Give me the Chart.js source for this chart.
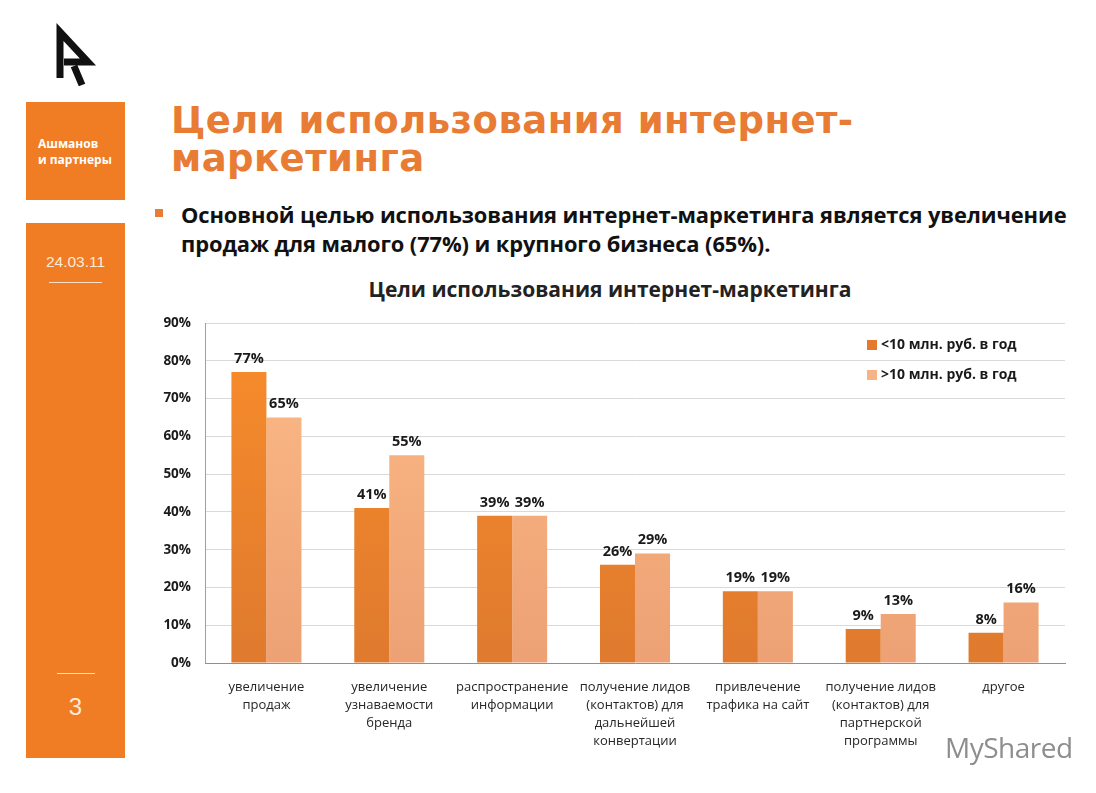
<!DOCTYPE html>
<html lang="ru">
<head>
<meta charset="utf-8">
<title>Цели использования интернет-маркетинга</title>
<script src="https://cdn.jsdelivr.net/npm/chart.js@4.4.1/dist/chart.umd.min.js"></script>
<style>
  html, body { margin: 0; padding: 0; background: #fff; }
  body { width: 1096px; height: 793px; position: relative; overflow: hidden; font-family: "Open Sans", "DejaVu Sans", sans-serif; }
  .box { position: absolute; left: 26px; width: 99px; background: #f07c24; color: #fff; }
  .box1 { top: 102px; height: 98px; }
  .box2 { top: 223px; height: 535px; }
  .brand { position: absolute; left: 12px; top: 34px; font: bold 12px/16px "Open Sans", sans-serif; }
  .date { position: absolute; left: 0; width: 99px; top: 30px; text-align: center; font: 15.5px "Liberation Sans", Arial, sans-serif; color: #fdebd8; }
  .rule { position: absolute; height: 1px; background: #fde0c8; }
  .page { position: absolute; left: 0; width: 99px; top: 470px; text-align: center; font: 24px "Liberation Sans", Arial, sans-serif; color: #fdebd8; }
  .title { position: absolute; left: 171px; top: 102px; color: #e87c34; font: bold 37px/38px "DejaVu Sans", Verdana, sans-serif; letter-spacing: 0.45px; }
  .bullet { position: absolute; left: 155px; top: 209px; width: 8px; height: 8px; background: #e87c34; }
  .lead { position: absolute; left: 181px; top: 200px; color: #111; font: bold 21.9px/29px "Open Sans", sans-serif; letter-spacing: -0.1px; white-space: nowrap; }
  .ctitle { position: absolute; left: 200px; width: 820px; top: 275px; text-align: center; color: #222; font: bold 21px "Open Sans", sans-serif; }
  #wrap { position: absolute; left: 140px; top: 300px; width: 945px; height: 460px; }
  .mark { position: absolute; left: 945px; top: 728px; color: #7a7a7a; font: 28px "Open Sans", sans-serif; letter-spacing: -0.5px; opacity: 0.85; }
</style>
</head>
<body>
<svg style="position:absolute;left:0;top:0" width="120" height="100">
  <path d="M60 78 L60 32 L88 62 L64 62" fill="none" stroke="#111" stroke-width="7" stroke-linejoin="miter"/>
  <path d="M74 66 L82 85" stroke="#111" stroke-width="7"/>
</svg>

<div class="box box1"><div class="brand">Ашманов<br>и партнеры</div></div>
<div class="box box2">
  <div class="date">24.03.11</div>
  <div class="rule" style="left:23px;width:53px;top:59px"></div>
  <div class="rule" style="left:31px;width:38px;top:450px"></div>
  <div class="page">3</div>
</div>

<div class="title">Цели использования интернет-<br>маркетинга</div>
<div class="bullet"></div>
<div class="lead">Основной целью использования интернет-маркетинга является увеличение<br>продаж для малого (77%) и крупного бизнеса (65%).</div>
<div class="ctitle">Цели использования интернет-маркетинга</div>

<div id="wrap"><canvas id="goalsChart" width="945" height="460"></canvas></div>
<div class="mark">MyShared</div>

<script>
// ---- data ----
const categories = [
  ["увеличение", "продаж"],
  ["увеличение", "узнаваемости", "бренда"],
  ["распространение", "информации"],
  ["получение лидов", "(контактов) для", "дальнейшей", "конвертации"],
  ["привлечение", "трафика на сайт"],
  ["получение лидов", "(контактов) для", "партнерской", "программы"],
  ["другое"]
];
const seriesNames = ["<10 млн. руб. в год", ">10 млн. руб. в год"];
const smallBusiness = [77, 41, 39, 26, 19, 9, 8];
const largeBusiness = [65, 55, 39, 29, 19, 13, 16];
const yTicks = [0, 10, 20, 30, 40, 50, 60, 70, 80, 90];

const LABEL_FONT = "\"Open Sans\", sans-serif";

// vertical gradient per bar set
function barGradient(ctx, top, bottom) {
    const chart = ctx.chart;
    const area = chart.chartArea;
    if (!area) return top;
    const g = chart.ctx.createLinearGradient(0, area.top, 0, area.bottom);
    g.addColorStop(0, top);
    g.addColorStop(1, bottom);
    return g;
}

// value labels above bars
const valueLabels = {
    id: "valueLabels",
    afterDatasetsDraw(chart) {
        const ctx = chart.ctx;
        ctx.save();
        ctx.font = "bold 14.5px " + LABEL_FONT;
        ctx.fillStyle = "#1a1a1a";
        ctx.textAlign = "center";
        ctx.textBaseline = "bottom";
        chart.data.datasets.forEach((ds, i) => {
            chart.getDatasetMeta(i).data.forEach((bar, j) => {
                ctx.fillText(ds.data[j] + "%", bar.x, bar.y - 6);
            });
        });
        ctx.restore();
    }
};

// legend inside the plot, top right
const insideLegend = {
    id: "insideLegend",
    afterDraw(chart) {
        const ctx = chart.ctx;
        const a = chart.chartArea;
        ctx.save();
        ctx.font = "bold 14px " + LABEL_FONT;
        ctx.textBaseline = "middle";
        chart.data.datasets.forEach((ds, i) => {
            const x = a.right - 198;
            const y = a.top + 22 + i * 30;
            ctx.fillStyle = ds.legendColor;
            ctx.fillRect(x, y - 5, 10, 10);
            ctx.fillStyle = "#1a1a1a";
            ctx.fillText(ds.label, x + 14, y);
        });
        ctx.restore();
    }
};

new Chart(document.getElementById("goalsChart"), {
    type: "bar",
    data: {
        labels: categories,
        datasets: [{
            label: seriesNames[0],
            data: smallBusiness,
            legendColor: "#e4782c",
            backgroundColor: ctx => barGradient(ctx, "#f98d2b", "#df7a2e")
        }, {
            label: seriesNames[1],
            data: largeBusiness,
            legendColor: "#f7b286",
            backgroundColor: ctx => barGradient(ctx, "#fdbb88", "#eda174")
        }]
    },
    options: {
        responsive: false,
        animation: false,
        layout: { padding: { top: 23, right: 20, left: 0, bottom: 0 } },
        categoryPercentage: 0.57,
        barPercentage: 1,
        plugins: {
            legend: { display: false },
            tooltip: { enabled: false },
            title: { display: false }
        },
        scales: {
            y: {
                min: 0,
                max: 90,
                afterFit: s => { s.width = 65; },
                afterBuildTicks: s => { s.ticks = yTicks.map(v => ({ value: v })); },
                ticks: {
                    callback: v => v + "%",
                    padding: 14,
                    color: "#1a1a1a",
                    font: { family: LABEL_FONT, size: 13.5, weight: "bold" }
                },
                grid: { color: "#d9d9d9", drawTicks: false },
                border: { display: true, color: "#a0a0a0" }
            },
            x: {
                afterFit: s => { s.height = 97; },
                ticks: {
                    maxRotation: 0,
                    autoSkip: false,
                    padding: 15,
                    color: "#262626",
                    font: { family: LABEL_FONT, size: 13, lineHeight: 1.4 }
                },
                grid: { display: false, drawTicks: false },
                border: { display: true, color: "#909090" }
            }
        }
    },
    plugins: [valueLabels, insideLegend]
});
</script>
</body>
</html>
